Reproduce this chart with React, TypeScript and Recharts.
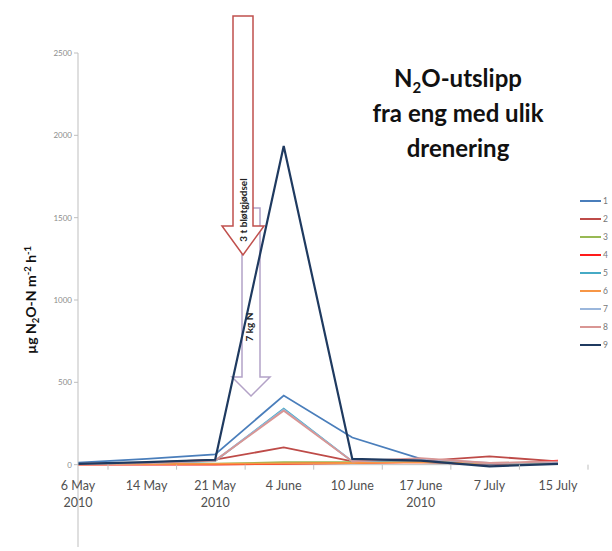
import React from "react";
import {
  LineChart,
  Line,
  XAxis,
  YAxis,
  ReferenceLine,
  Legend,
  Customized,
} from "recharts";

const dates = [
  "6 May|2010",
  "14 May",
  "21 May|2010",
  "4 June",
  "10 June",
  "17 June|2010",
  "7 July",
  "15 July",
];

const s1 = [12, 35, 62, 420, 165, 35, 5, 15];
const s2 = [5, 12, 30, 105, 20, 22, 50, 20];
const s3 = [3, 5, 6, 15, 15, 20, 5, 10];
const s4 = [0, 0, 0, 5, 10, 15, 0, 25];
const s5 = [5, 10, 22, 340, 20, 15, 5, 15];
const s6 = [2, 3, 5, 8, 10, 15, 10, 15];
const s7 = [5, 10, 25, 335, 20, 35, 10, 15];
const s8 = [5, 10, 25, 328, 20, 40, 10, 20];
const s9 = [5, 15, 30, 1935, 35, 25, -10, 5];

const yTicks = [-500, 0, 500, 1000, 1500, 2000, 2500];

const seriesList = [
  { key: "1", values: s1, color: "#4A7EBB" },
  { key: "2", values: s2, color: "#BE4B48" },
  { key: "3", values: s3, color: "#98B954" },
  { key: "4", values: s4, color: "#FF1A1A" },
  { key: "5", values: s5, color: "#46AAC5" },
  { key: "6", values: s6, color: "#F79646" },
  { key: "7", values: s7, color: "#9BB7DC" },
  { key: "8", values: s8, color: "#D99694" },
  { key: "9", values: s9, color: "#1F3A60" },
];

const data = dates.map((d, i) => {
  const row: Record<string, string | number> = { date: d };
  seriesList.forEach((s) => {
    row[s.key] = s.values[i];
  });
  return row;
});

const W = 612;
const H = 551;
const margin = { top: 53, right: 54, bottom: 3, left: 38 };
const Y_W = 40;
const X_H = 1;
const PLOT_W = W - margin.left - margin.right - Y_W;
const PLOT_H = H - margin.top - margin.bottom - X_H;
// distance from bottom of plot (-500) up to the zero line
const ZERO_UP = (PLOT_H * 500) / 3000;
const BAND = PLOT_W / dates.length;

const font = "Lato, 'Open Sans', sans-serif";

const DateTick = (props: any) => {
  const { x, y, payload } = props;
  const y0 = y - ZERO_UP;
  const parts = String(payload.value).split("|");
  return (
    <g>
      <line x1={x + BAND / 2} x2={x + BAND / 2} y1={y0} y2={y0 + 5} stroke="#BFBFBF" />
      {parts.map((p, i) => (
        <text
          key={i}
          x={x}
          y={y0 + 25 + i * 17}
          textAnchor="middle"
          fontSize={12.5}
          fontFamily={font}
          fill="#505050"
        >
          {p}
        </text>
      ))}
    </g>
  );
};

const LegendBox = (props: any) => {
  const items = (props.payload || []).slice();
  return (
    <div style={{ fontFamily: font, fontSize: 8.5, color: "#777" }}>
      {items.map((it: any) => (
        <div key={it.value} style={{ height: 18, display: "flex", alignItems: "center" }}>
          <svg width={23} height={6}>
            <line x1={0} x2={21} y1={3} y2={3} stroke={it.color} strokeWidth={2} />
          </svg>
          <span>{it.value}</span>
        </div>
      ))}
    </div>
  );
};

const Arrows = () => (
  <g>
    {/* lavender arrow: 7 kg N */}
    <path
      d="M242,208 L260,208 L260,377 L270,377 L251,396 L232,377 L242,377 Z"
      fill="none"
      stroke="#B3A2C7"
      strokeWidth={1.5}
    />
    {/* red arrow: 3 t bløtgjødsel */}
    <path
      d="M233,16 L253,16 L253,226 L264,226 L243,255 L222,226 L233,226 Z"
      fill="#fff"
      stroke="#C0504D"
      strokeWidth={1.5}
    />
    <text
      x={0}
      y={0}
      transform="translate(246.5,210) rotate(-90)"
      textAnchor="middle"
      fontSize={10}
      fontWeight="bold"
      fontFamily={font}
      fill="#222"
    >
      3 t bløtgjødsel
    </text>
    <text
      x={0}
      y={0}
      transform="translate(252.5,327) rotate(-90)"
      textAnchor="middle"
      fontSize={10}
      fontWeight="bold"
      fontFamily={font}
      fill="#222"
    >
      7 kg N
    </text>
  </g>
);

export default function App() {
  return (
    <div style={{ position: "absolute", left: 0, top: 0, width: W, height: H, background: "#fff" }}>
      <LineChart width={W} height={H} data={data} margin={margin}>
        <XAxis
          dataKey="date"
          height={X_H}
          axisLine={false}
          tickLine={false}
          tickSize={0}
          tickMargin={0}
          tick={<DateTick />}
          interval={0}
        />
        <YAxis
          width={Y_W}
          domain={[-500, 2500]}
          ticks={yTicks}
          allowDataOverflow
          axisLine={{ stroke: "#BFBFBF" }}
          tickLine={{ stroke: "#BFBFBF" }}
          tickSize={4}
          tick={{ fontSize: 8, fill: "#8C8C8C", fontFamily: font }}
        />
        <ReferenceLine y={0} stroke="#BFBFBF" />
        <Customized component={<Arrows />} />
        {seriesList.map((s) => (
          <Line
            key={s.key}
            dataKey={s.key}
            name={s.key}
            stroke={s.color}
            strokeWidth={s.key === "9" ? 2.2 : 1.8}
            dot={false}
            type="linear"
            isAnimationActive={false}
          />
        ))}
        <Legend
          layout="vertical"
          align="center"
          verticalAlign="middle"
          content={<LegendBox />}
          wrapperStyle={{ position: "absolute", left: 580, top: 192, width: 32 }}
        />
      </LineChart>
      <svg
        width={60}
        height={200}
        style={{ position: "absolute", left: 0, top: 200 }}
      >
        <text
          transform="translate(36,100) rotate(-90)"
          textAnchor="middle"
          fontSize={14}
          fontWeight="bold"
          fontFamily={font}
          fill="#111"
        >
          µg N<tspan fontSize={9.5} dy={3}>2</tspan>
          <tspan dy={-3}>O-N m</tspan>
          <tspan fontSize={9.5} dy={-5}>-2</tspan>
          <tspan dy={5}> h</tspan>
          <tspan fontSize={9.5} dy={-5}>-1</tspan>
        </text>
      </svg>
      <div
        style={{
          position: "absolute",
          left: 350,
          top: 60,
          width: 216,
          textAlign: "center",
          fontFamily: font,
          fontWeight: "bold",
          fontSize: 24,
          lineHeight: "35px",
          color: "#111",
        }}
      >
        <div>
          N<sub style={{ fontSize: 15, lineHeight: 0 }}>2</sub>O-utslipp
        </div>
        <div>fra eng med ulik</div>
        <div>drenering</div>
      </div>
    </div>
  );
}
